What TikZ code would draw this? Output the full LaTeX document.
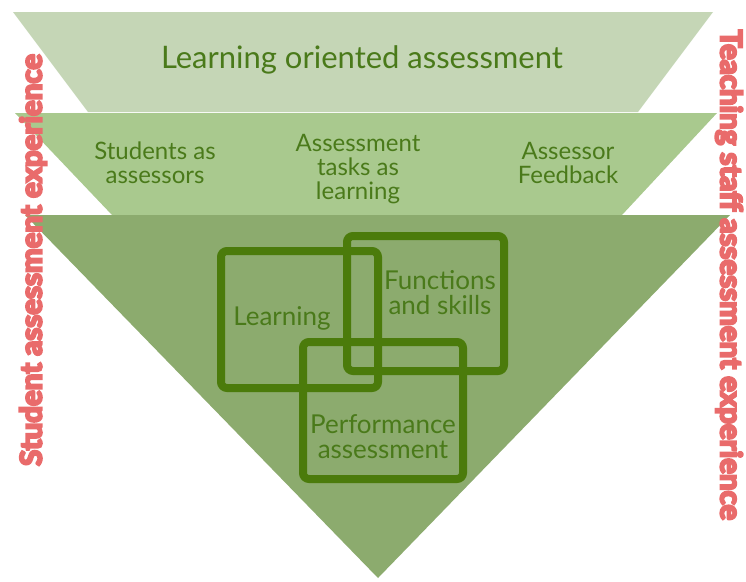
\documentclass[tikz,border=0pt]{standalone}
\usepackage{fontspec}
\setmainfont{Lato}
\newcommand{\heavytext}[1]{\special{pdf:literal direct 2 Tr 2.2 w}#1\special{pdf:literal direct 0 Tr}}
\usetikzlibrary{positioning}
\definecolor{bandtop}{HTML}{C5D6B6}
\definecolor{bandmid}{HTML}{A9C98E}
\definecolor{bandlow}{HTML}{8CAB6E}
\definecolor{textgreen}{HTML}{4A7A1A}
\definecolor{boxgreen}{HTML}{4B7B0B}
\definecolor{sidered}{HTML}{E96B6B}

\begin{document}
\begin{tikzpicture}[x=1pt,y=-1pt]

        \tikzstyle{lbl}  = [text=textgreen, align=center, inner sep=0pt, font=\fontsize{24}{24}\selectfont]
        \tikzstyle{boxlbl}  = [text=textgreen, align=center, inner sep=0pt, font=\fontsize{26}{25}\selectfont]
        \tikzstyle{overlap}  = [draw=boxgreen, line width=8pt, rounded corners=6pt]
        \tikzstyle{side}  = [text=sidered, inner sep=0pt, font=\bfseries\fontsize{29.5}{30}\selectfont]

        \useasboundingbox (0,0) rectangle (746,581);

        % the three bands of the funnel
        \fill [bandtop] (13,12) -- (713,12) -- (638,112) -- (88,112) -- cycle;
        \fill [bandmid] (15,113) -- (717,113) -- (622,215) -- (112,215) -- cycle;
        \fill [bandlow] (25,215) -- (730,215) -- (378,578) -- cycle;

        \node [lbl, font=\fontsize{31}{34}\selectfont](loa) at (362,60) {Learning oriented assessment};

        \node [lbl](sas) at (155,163) {Students as\\assessors};
        \node [lbl](atl) at (358,169) {Assessment\\tasks as\\learning};
        \node [lbl](afb) at (568,163) {Assessor\\Feedback};

        % overlapping boxes
        \foreach \name/\l/\t/\r/\b in {lrn/221/251/378/388, fns/347/236/504/371, prf/303/342/463/479}
        {
                \draw [overlap] (\l,\t) rectangle (\r,\b);
                \coordinate (\name) at ({(\l+\r)/2},{(\t+\b)/2});
        }

        \node [boxlbl](lrnt) at (282,318) {Learning};
        \node [boxlbl](fnst) at (440,293) {Functions\\and skills};
        \node [boxlbl](prft) at (383,437) {Performance\\assessment};

        \node [side, rotate=90](stu) at (33,260) {\heavytext{Student assessment experience}};
        \node [side, rotate=-90](tch) at (729,275) {\heavytext{Teaching staff assessment experience}};

\end{tikzpicture}
\end{document}
